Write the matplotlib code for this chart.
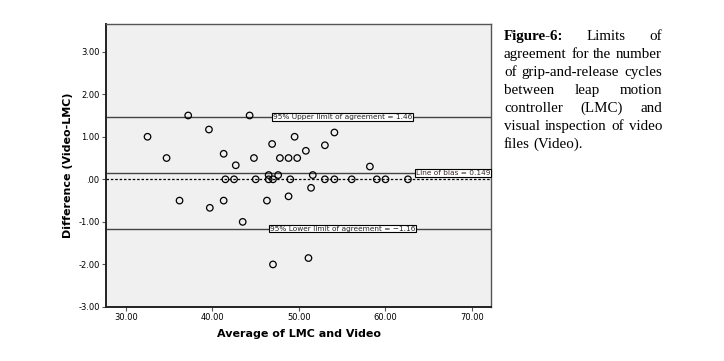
import numpy as np
import matplotlib.pyplot as plt

# Bland-Altman data
avg = [32.5, 34.7, 37.2, 39.6, 41.3, 42.7, 44.8, 44.3, 46.9, 47.8, 48.8, 49.8, 49.5, 50.8,
       53.0, 54.1, 58.2,
       41.5, 42.5, 45.0, 46.5, 47.0, 49.0, 53.0, 54.1, 56.1, 59.0, 60.0, 62.6,
       46.5, 47.6, 51.6, 51.4,
       36.2, 41.3, 39.7, 43.5, 46.3, 48.8, 47.0, 51.1]
diff = [1.0, 0.5, 1.5, 1.17, 0.6, 0.33, 0.5, 1.5, 0.83, 0.5, 0.5, 0.5, 1.0, 0.67,
        0.8, 1.1, 0.3,
        0.0, 0.0, 0.0, 0.0, 0.0, 0.0, 0.0, 0.0, 0.0, 0.0, 0.0, 0.0,
        0.1, 0.1, 0.1, -0.2,
        -0.5, -0.5, -0.67, -1.0, -0.5, -0.4, -2.0, -1.85]

bias = 0.149
upper = 1.46
lower = -1.16

yticks = [3, 2, 1, 0, -1, -2, -3]
ytick_labels = ['3.00', '2.00', '1.00', '.00', '-1.00', '-2.00', '-3.00']
xticks = [30, 40, 50, 60, 70]
xtick_labels = ['30.00', '40.00', '50.00', '60.00', '70.00']

caption = [
    ('Figure-6:', 'Limits', 'of'),
    ('agreement', 'for', 'the', 'number'),
    ('of', 'grip-and-release', 'cycles'),
    ('between', 'leap', 'motion'),
    ('controller', '(LMC)', 'and'),
    ('visual', 'inspection', 'of', 'video'),
    ('files', '(Video).'),
]

fig = plt.figure(figsize=(7.24, 3.61), dpi=100)
ax = fig.add_axes([0.1464, 0.1496, 0.5318, 0.784])
ax.set_facecolor('#f0f0f0')

ax.axhline(0, color='black', lw=0.9, ls=(0, (2, 1.5)), zorder=1)
ax.axhline(upper, color='#444444', lw=1.0, zorder=1)
ax.axhline(bias, color='#444444', lw=1.0, zorder=1)
ax.axhline(lower, color='#444444', lw=1.0, zorder=1)

ax.scatter(avg, diff, s=22, facecolors='none', edgecolors='black', linewidths=0.9, zorder=3)

box = dict(boxstyle='square,pad=0.1', fc='white', ec='black', lw=0.8)
ax.text(55.0, upper, '95% Upper limit of agreement = 1.46', fontsize=5.3, ha='center',
        va='center', bbox=box, color='#222222', zorder=4)
ax.text(55.0, lower, '95% Lower limit of agreement = \u22121.16', fontsize=5.3, ha='center',
        va='center', bbox=box, color='#222222', zorder=4)
ax.text(72.1, bias, 'Line of bias = 0.149', fontsize=5.3, ha='right',
        va='center', bbox=box, color='#3a2a2a', zorder=4)

ax.set_xlim(27.7, 72.2)
ax.set_ylim(-3.0, 3.65)
ax.set_yticks(yticks)
ax.set_yticklabels(ytick_labels)
ax.set_xticks(xticks)
ax.set_xticklabels(xtick_labels)
ax.tick_params(labelsize=6, length=3, width=0.8, pad=1.5, color='#555555')

for side in ['left', 'bottom']:
    ax.spines[side].set_linewidth(1.4)
    ax.spines[side].set_color('#222222')
for side in ['top', 'right']:
    ax.spines[side].set_linewidth(1.0)
    ax.spines[side].set_color('#555555')

ax.set_xlabel('Average of LMC and Video', fontsize=8, fontweight='bold', labelpad=5)
ax.set_ylabel('Difference (Video-LMC)', fontsize=8, fontweight='bold', labelpad=4)

# justified caption on the right
fig.canvas.draw()
renderer = fig.canvas.get_renderer()
x0, x1 = 504, 662
y = 361 - 40
for i, words in enumerate(caption):
    texts = []
    for j, w in enumerate(words):
        bold = (i == 0 and j == 0)
        t = fig.text(0, 0, w, fontsize=10.8, family='Liberation Serif',
                     fontweight='bold' if bold else 'normal', va='baseline',
                     transform=None)
        texts.append(t)
    widths = [t.get_window_extent(renderer).width for t in texts]
    if i < len(caption) - 1 and len(words) > 1:
        gap = (x1 - x0 - sum(widths)) / (len(words) - 1)
    else:
        gap = 3.8
    x = x0
    for t, w in zip(texts, widths):
        t.set_position((x, y))
        x += w + gap
    y -= 18

fig.savefig('out.png', dpi=100)
